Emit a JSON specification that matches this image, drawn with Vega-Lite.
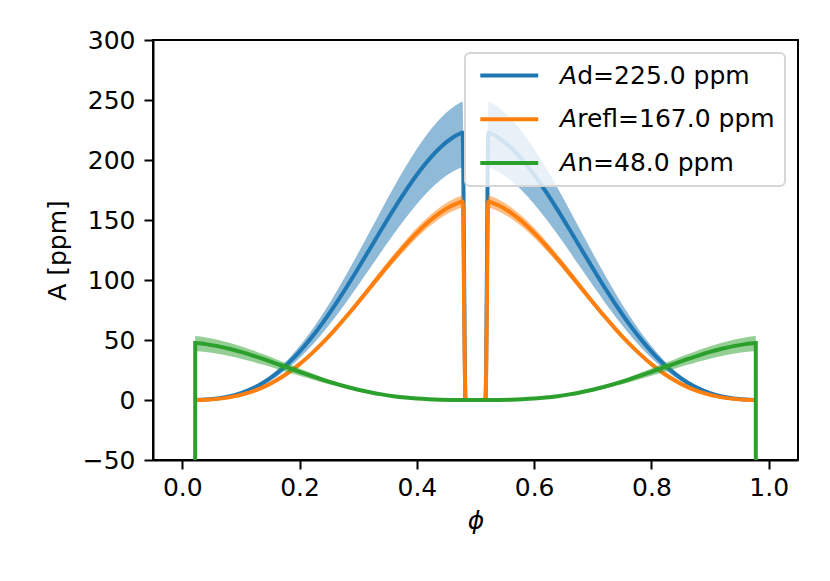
{
  "$schema": "https://vega.github.io/schema/vega-lite/v6.json",
  "width": 645,
  "height": 420,
  "autosize": "none",
  "padding": {"left": 153, "top": 40, "right": 32, "bottom": 121},
  "config": {
    "font": "DejaVu Sans",
    "view": {"stroke": "#000", "strokeWidth": 2},
    "axis": {
      "grid": false,
      "domainColor": "#000",
      "domainWidth": 2,
      "tickColor": "#000",
      "tickWidth": 2,
      "tickSize": 9,
      "labelFont": "DejaVu Sans",
      "labelFontSize": 25,
      "labelColor": "#000",
      "titleFont": "DejaVu Sans",
      "titleFontSize": 25,
      "titleFontWeight": "normal",
      "titleColor": "#000"
    },
    "legend": {
      "orient": "top-right",
      "offset": 13,
      "padding": 10,
      "fillColor": "rgba(255,255,255,0.8)",
      "strokeColor": "#d6d6d6",
      "strokeWidth": 2,
      "cornerRadius": 5,
      "labelFont": "DejaVu Sans",
      "labelFontSize": 25,
      "labelColor": "#000",
      "labelLimit": 400,
      "symbolType": "M-4,0H4",
      "symbolSize": 210,
      "symbolStrokeWidth": 4,
      "symbolOffset": 21.75,
      "labelOffset": 38.5,
      "rowPadding": 17.7
    }
  },
  "datasets": {
    "day": [
      {"phi": 0.022, "A": 0.06, "lo": 0.05, "hi": 0.07},
      {"phi": 0.04, "A": 0.38, "lo": 0.33, "hi": 0.42},
      {"phi": 0.06, "A": 1.26, "lo": 1.10, "hi": 1.40},
      {"phi": 0.08, "A": 2.96, "lo": 2.58, "hi": 3.30},
      {"phi": 0.10, "A": 5.69, "lo": 4.95, "hi": 6.34},
      {"phi": 0.12, "A": 9.66, "lo": 8.40, "hi": 10.77},
      {"phi": 0.14, "A": 15.03, "lo": 13.08, "hi": 16.76},
      {"phi": 0.16, "A": 21.89, "lo": 19.04, "hi": 24.41},
      {"phi": 0.18, "A": 30.31, "lo": 26.37, "hi": 33.80},
      {"phi": 0.20, "A": 40.30, "lo": 35.06, "hi": 44.93},
      {"phi": 0.22, "A": 51.80, "lo": 45.07, "hi": 57.76},
      {"phi": 0.24, "A": 64.70, "lo": 56.29, "hi": 72.14},
      {"phi": 0.26, "A": 78.82, "lo": 68.57, "hi": 87.88},
      {"phi": 0.28, "A": 93.96, "lo": 81.75, "hi": 104.77},
      {"phi": 0.30, "A": 109.83, "lo": 95.55, "hi": 122.46},
      {"phi": 0.32, "A": 126.12, "lo": 109.72, "hi": 140.62},
      {"phi": 0.34, "A": 142.45, "lo": 123.93, "hi": 158.83},
      {"phi": 0.36, "A": 158.45, "lo": 137.85, "hi": 176.67},
      {"phi": 0.38, "A": 173.68, "lo": 151.10, "hi": 193.65},
      {"phi": 0.40, "A": 187.72, "lo": 163.32, "hi": 209.31},
      {"phi": 0.42, "A": 200.13, "lo": 174.11, "hi": 223.14},
      {"phi": 0.44, "A": 210.46, "lo": 183.10, "hi": 234.66},
      {"phi": 0.46, "A": 218.31, "lo": 189.93, "hi": 243.42},
      {"phi": 0.47, "A": 221.18, "lo": 192.43, "hi": 246.62},
      {"phi": 0.478, "A": 222.91, "lo": 193.93, "hi": 248.54},
      {"phi": 0.483, "A": 0, "lo": 0, "hi": 0},
      {"phi": 0.5, "A": 0, "lo": 0, "hi": 0},
      {"phi": 0.517, "A": 0, "lo": 0, "hi": 0},
      {"phi": 0.522, "A": 222.91, "lo": 193.93, "hi": 248.54},
      {"phi": 0.53, "A": 221.18, "lo": 192.43, "hi": 246.62},
      {"phi": 0.54, "A": 218.31, "lo": 189.93, "hi": 243.42},
      {"phi": 0.56, "A": 210.46, "lo": 183.10, "hi": 234.66},
      {"phi": 0.58, "A": 200.13, "lo": 174.11, "hi": 223.14},
      {"phi": 0.60, "A": 187.72, "lo": 163.32, "hi": 209.31},
      {"phi": 0.62, "A": 173.68, "lo": 151.10, "hi": 193.65},
      {"phi": 0.64, "A": 158.45, "lo": 137.85, "hi": 176.67},
      {"phi": 0.66, "A": 142.45, "lo": 123.93, "hi": 158.83},
      {"phi": 0.68, "A": 126.12, "lo": 109.72, "hi": 140.62},
      {"phi": 0.70, "A": 109.83, "lo": 95.55, "hi": 122.46},
      {"phi": 0.72, "A": 93.96, "lo": 81.75, "hi": 104.77},
      {"phi": 0.74, "A": 78.82, "lo": 68.57, "hi": 87.88},
      {"phi": 0.76, "A": 64.70, "lo": 56.29, "hi": 72.14},
      {"phi": 0.78, "A": 51.80, "lo": 45.07, "hi": 57.76},
      {"phi": 0.80, "A": 40.30, "lo": 35.06, "hi": 44.93},
      {"phi": 0.82, "A": 30.31, "lo": 26.37, "hi": 33.80},
      {"phi": 0.84, "A": 21.89, "lo": 19.04, "hi": 24.41},
      {"phi": 0.86, "A": 15.03, "lo": 13.08, "hi": 16.76},
      {"phi": 0.88, "A": 9.66, "lo": 8.40, "hi": 10.77},
      {"phi": 0.90, "A": 5.69, "lo": 4.95, "hi": 6.34},
      {"phi": 0.92, "A": 2.96, "lo": 2.58, "hi": 3.30},
      {"phi": 0.94, "A": 1.26, "lo": 1.10, "hi": 1.40},
      {"phi": 0.96, "A": 0.38, "lo": 0.33, "hi": 0.42},
      {"phi": 0.978, "A": 0.06, "lo": 0.05, "hi": 0.07}
    ],
    "refl": [
      {"phi": 0.022, "A": 0.05, "lo": 0.05, "hi": 0.05},
      {"phi": 0.04, "A": 0.28, "lo": 0.27, "hi": 0.29},
      {"phi": 0.06, "A": 0.94, "lo": 0.91, "hi": 0.97},
      {"phi": 0.08, "A": 2.19, "lo": 2.12, "hi": 2.26},
      {"phi": 0.10, "A": 4.23, "lo": 4.10, "hi": 4.36},
      {"phi": 0.12, "A": 7.17, "lo": 6.95, "hi": 7.39},
      {"phi": 0.14, "A": 11.15, "lo": 10.82, "hi": 11.48},
      {"phi": 0.16, "A": 16.25, "lo": 15.76, "hi": 16.74},
      {"phi": 0.18, "A": 22.50, "lo": 21.83, "hi": 23.18},
      {"phi": 0.20, "A": 29.91, "lo": 29.01, "hi": 30.81},
      {"phi": 0.22, "A": 38.45, "lo": 37.30, "hi": 39.60},
      {"phi": 0.24, "A": 48.02, "lo": 46.58, "hi": 49.46},
      {"phi": 0.26, "A": 58.51, "lo": 56.75, "hi": 60.27},
      {"phi": 0.28, "A": 69.74, "lo": 67.65, "hi": 71.83},
      {"phi": 0.30, "A": 81.52, "lo": 79.07, "hi": 83.97},
      {"phi": 0.32, "A": 93.61, "lo": 90.80, "hi": 96.42},
      {"phi": 0.34, "A": 105.73, "lo": 102.56, "hi": 108.90},
      {"phi": 0.36, "A": 117.60, "lo": 114.07, "hi": 121.13},
      {"phi": 0.38, "A": 128.91, "lo": 125.04, "hi": 132.78},
      {"phi": 0.40, "A": 139.33, "lo": 135.15, "hi": 143.51},
      {"phi": 0.42, "A": 148.54, "lo": 144.08, "hi": 153.00},
      {"phi": 0.44, "A": 156.21, "lo": 151.52, "hi": 160.90},
      {"phi": 0.46, "A": 162.03, "lo": 157.17, "hi": 166.89},
      {"phi": 0.47, "A": 164.16, "lo": 159.24, "hi": 169.08},
      {"phi": 0.478, "A": 165.45, "lo": 160.49, "hi": 170.41},
      {"phi": 0.483, "A": 0, "lo": 0, "hi": 0},
      {"phi": 0.5, "A": 0, "lo": 0, "hi": 0},
      {"phi": 0.517, "A": 0, "lo": 0, "hi": 0},
      {"phi": 0.522, "A": 165.45, "lo": 160.49, "hi": 170.41},
      {"phi": 0.53, "A": 164.16, "lo": 159.24, "hi": 169.08},
      {"phi": 0.54, "A": 162.03, "lo": 157.17, "hi": 166.89},
      {"phi": 0.56, "A": 156.21, "lo": 151.52, "hi": 160.90},
      {"phi": 0.58, "A": 148.54, "lo": 144.08, "hi": 153.00},
      {"phi": 0.60, "A": 139.33, "lo": 135.15, "hi": 143.51},
      {"phi": 0.62, "A": 128.91, "lo": 125.04, "hi": 132.78},
      {"phi": 0.64, "A": 117.60, "lo": 114.07, "hi": 121.13},
      {"phi": 0.66, "A": 105.73, "lo": 102.56, "hi": 108.90},
      {"phi": 0.68, "A": 93.61, "lo": 90.80, "hi": 96.42},
      {"phi": 0.70, "A": 81.52, "lo": 79.07, "hi": 83.97},
      {"phi": 0.72, "A": 69.74, "lo": 67.65, "hi": 71.83},
      {"phi": 0.74, "A": 58.51, "lo": 56.75, "hi": 60.27},
      {"phi": 0.76, "A": 48.02, "lo": 46.58, "hi": 49.46},
      {"phi": 0.78, "A": 38.45, "lo": 37.30, "hi": 39.60},
      {"phi": 0.80, "A": 29.91, "lo": 29.01, "hi": 30.81},
      {"phi": 0.82, "A": 22.50, "lo": 21.83, "hi": 23.18},
      {"phi": 0.84, "A": 16.25, "lo": 15.76, "hi": 16.74},
      {"phi": 0.86, "A": 11.15, "lo": 10.82, "hi": 11.48},
      {"phi": 0.88, "A": 7.17, "lo": 6.95, "hi": 7.39},
      {"phi": 0.90, "A": 4.23, "lo": 4.10, "hi": 4.36},
      {"phi": 0.92, "A": 2.19, "lo": 2.12, "hi": 2.26},
      {"phi": 0.94, "A": 0.94, "lo": 0.91, "hi": 0.97},
      {"phi": 0.96, "A": 0.28, "lo": 0.27, "hi": 0.29},
      {"phi": 0.978, "A": 0.05, "lo": 0.05, "hi": 0.05}
    ],
    "night": [
      {"phi": 0.0219, "A": -80, "lo": null, "hi": null},
      {"phi": 0.022, "A": 47.55, "lo": 40.89, "hi": 53.26},
      {"phi": 0.04, "A": 46.57, "lo": 40.05, "hi": 52.16},
      {"phi": 0.06, "A": 44.90, "lo": 38.61, "hi": 50.29},
      {"phi": 0.08, "A": 42.69, "lo": 36.71, "hi": 47.81},
      {"phi": 0.10, "A": 40.05, "lo": 34.44, "hi": 44.86},
      {"phi": 0.12, "A": 37.05, "lo": 31.86, "hi": 41.50},
      {"phi": 0.14, "A": 33.80, "lo": 29.07, "hi": 37.86},
      {"phi": 0.16, "A": 30.39, "lo": 26.14, "hi": 34.04},
      {"phi": 0.18, "A": 26.90, "lo": 23.13, "hi": 30.13},
      {"phi": 0.20, "A": 23.43, "lo": 20.15, "hi": 26.24},
      {"phi": 0.22, "A": 20.05, "lo": 17.24, "hi": 22.46},
      {"phi": 0.24, "A": 16.82, "lo": 14.47, "hi": 18.84},
      {"phi": 0.26, "A": 13.80, "lo": 11.87, "hi": 15.46},
      {"phi": 0.28, "A": 11.05, "lo": 9.50, "hi": 12.38},
      {"phi": 0.30, "A": 8.60, "lo": 7.40, "hi": 9.63},
      {"phi": 0.32, "A": 6.47, "lo": 5.56, "hi": 7.25},
      {"phi": 0.34, "A": 4.67, "lo": 4.02, "hi": 5.23},
      {"phi": 0.36, "A": 3.21, "lo": 2.76, "hi": 3.60},
      {"phi": 0.38, "A": 2.06, "lo": 1.77, "hi": 2.31},
      {"phi": 0.40, "A": 1.21, "lo": 1.04, "hi": 1.36},
      {"phi": 0.42, "A": 0.63, "lo": 0.54, "hi": 0.71},
      {"phi": 0.44, "A": 0.27, "lo": 0.23, "hi": 0.30},
      {"phi": 0.46, "A": 0.08, "lo": 0.07, "hi": 0.09},
      {"phi": 0.48, "A": 0.01, "lo": 0.01, "hi": 0.01},
      {"phi": 0.50, "A": 0, "lo": 0, "hi": 0},
      {"phi": 0.52, "A": 0.01, "lo": 0.01, "hi": 0.01},
      {"phi": 0.54, "A": 0.08, "lo": 0.07, "hi": 0.09},
      {"phi": 0.56, "A": 0.27, "lo": 0.23, "hi": 0.30},
      {"phi": 0.58, "A": 0.63, "lo": 0.54, "hi": 0.71},
      {"phi": 0.60, "A": 1.21, "lo": 1.04, "hi": 1.36},
      {"phi": 0.62, "A": 2.06, "lo": 1.77, "hi": 2.31},
      {"phi": 0.64, "A": 3.21, "lo": 2.76, "hi": 3.60},
      {"phi": 0.66, "A": 4.67, "lo": 4.02, "hi": 5.23},
      {"phi": 0.68, "A": 6.47, "lo": 5.56, "hi": 7.25},
      {"phi": 0.70, "A": 8.60, "lo": 7.40, "hi": 9.63},
      {"phi": 0.72, "A": 11.05, "lo": 9.50, "hi": 12.38},
      {"phi": 0.74, "A": 13.80, "lo": 11.87, "hi": 15.46},
      {"phi": 0.76, "A": 16.82, "lo": 14.47, "hi": 18.84},
      {"phi": 0.78, "A": 20.05, "lo": 17.24, "hi": 22.46},
      {"phi": 0.80, "A": 23.43, "lo": 20.15, "hi": 26.24},
      {"phi": 0.82, "A": 26.90, "lo": 23.13, "hi": 30.13},
      {"phi": 0.84, "A": 30.39, "lo": 26.14, "hi": 34.04},
      {"phi": 0.86, "A": 33.80, "lo": 29.07, "hi": 37.86},
      {"phi": 0.88, "A": 37.05, "lo": 31.86, "hi": 41.50},
      {"phi": 0.90, "A": 40.05, "lo": 34.44, "hi": 44.86},
      {"phi": 0.92, "A": 42.69, "lo": 36.71, "hi": 47.81},
      {"phi": 0.94, "A": 44.90, "lo": 38.61, "hi": 50.29},
      {"phi": 0.96, "A": 46.57, "lo": 40.05, "hi": 52.16},
      {"phi": 0.978, "A": 47.55, "lo": 40.89, "hi": 53.26},
      {"phi": 0.9781, "A": -80, "lo": null, "hi": null}
    ]
  },
  "encoding": {
    "x": {
      "field": "phi",
      "type": "quantitative",
      "title": "ϕ",
      "scale": {"domain": [-0.05, 1.05], "nice": false, "zero": false},
      "axis": {"values": [0, 0.2, 0.4, 0.6, 0.8, 1.0], "format": ".1f", "labelPadding": 6, "titlePadding": 8, "titleFontStyle": "italic"}
    }
  },
  "layer": [
    {
      "data": {"name": "day"},
      "mark": {"type": "area", "color": "#1f77b4", "opacity": 0.5, "interpolate": "monotone", "clip": true},
      "encoding": {
        "y": {"field": "lo", "type": "quantitative", "title": "A [ppm]", "scale": {"domain": [-50, 300], "nice": false}, "axis": {"values": [-50, 0, 50, 100, 150, 200, 250, 300], "labelPadding": 9, "titlePadding": 12}},
        "y2": {"field": "hi"}
      }
    },
    {
      "data": {"name": "day"},
      "mark": {"type": "line", "strokeWidth": 4, "interpolate": "monotone", "clip": true},
      "encoding": {
        "y": {"field": "A", "type": "quantitative", "title": "A [ppm]"},
        "color": {
          "datum": "𝘈d=225.0 ppm",
          "scale": {"domain": ["𝘈d=225.0 ppm", "𝘈refl=167.0 ppm", "𝘈n=48.0 ppm"], "range": ["#1f77b4", "#ff7f0e", "#2ca02c"]},
          "legend": {"title": null}
        }
      }
    },
    {
      "data": {"name": "refl"},
      "mark": {"type": "area", "color": "#ff7f0e", "opacity": 0.5, "interpolate": "monotone", "clip": true},
      "encoding": {
        "y": {"field": "lo", "type": "quantitative", "title": "A [ppm]"},
        "y2": {"field": "hi"}
      }
    },
    {
      "data": {"name": "refl"},
      "mark": {"type": "line", "strokeWidth": 4, "interpolate": "monotone", "clip": true},
      "encoding": {
        "y": {"field": "A", "type": "quantitative", "title": "A [ppm]"},
        "color": {"datum": "𝘈refl=167.0 ppm"}
      }
    },
    {
      "data": {"name": "night"},
      "mark": {"type": "area", "color": "#2ca02c", "opacity": 0.5, "interpolate": "monotone", "clip": true},
      "encoding": {
        "y": {"field": "lo", "type": "quantitative", "title": "A [ppm]"},
        "y2": {"field": "hi"}
      }
    },
    {
      "data": {"name": "night"},
      "mark": {"type": "line", "strokeWidth": 4, "interpolate": "monotone", "clip": true},
      "encoding": {
        "y": {"field": "A", "type": "quantitative", "title": "A [ppm]"},
        "color": {"datum": "𝘈n=48.0 ppm"}
      }
    }
  ]
}
